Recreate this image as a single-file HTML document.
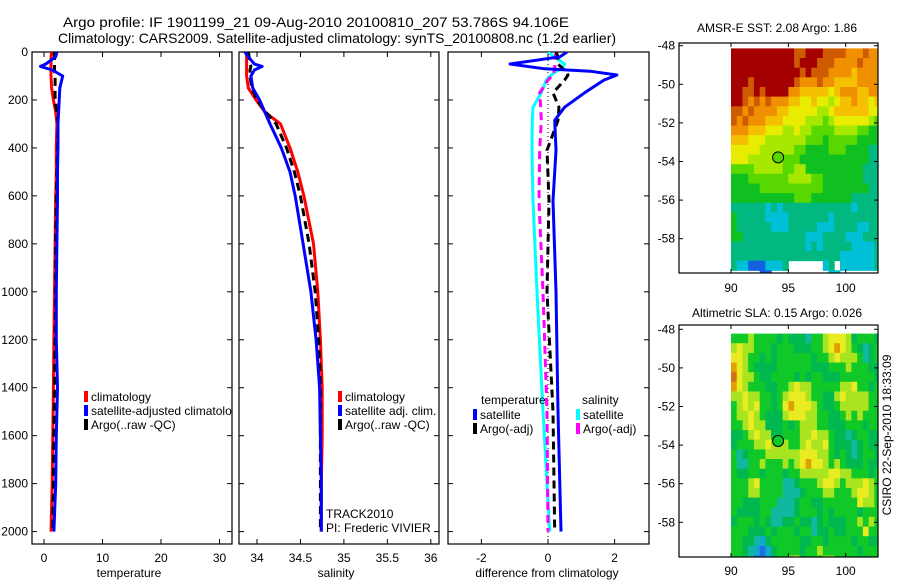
<!DOCTYPE html>
<html><head><meta charset="utf-8"><style>
html,body{margin:0;padding:0;background:#fff;}
svg{display:block;font-family:"Liberation Sans",sans-serif;}
text{font-size:12px;fill:#000;}
</style></head><body>
<svg id="fig" width="900" height="580" viewBox="0 0 900 580" xmlns="http://www.w3.org/2000/svg">
<rect x="0" y="0" width="900" height="580" fill="#fff"/>
<text x="63" y="27" style="font-size:14px" textLength="506" lengthAdjust="spacingAndGlyphs">Argo profile: IF 1901199_21 09-Aug-2010 20100810_207 53.786S 94.106E</text>
<text x="58" y="43" style="font-size:14px" textLength="558" lengthAdjust="spacingAndGlyphs">Climatology: CARS2009. Satellite-adjusted climatology: synTS_20100808.nc (1.2d earlier)</text>
<defs>
<clipPath id="c1"><rect x="32" y="52" width="200" height="492"/></clipPath>
<clipPath id="c2"><rect x="239" y="52" width="200" height="492"/></clipPath>
<clipPath id="c3"><rect x="448" y="52" width="201" height="492"/></clipPath>
<clipPath id="cm1"><rect x="679" y="43" width="199" height="230"/></clipPath>
<clipPath id="cm2"><rect x="679" y="325" width="199" height="232"/></clipPath>
</defs>
<g id="layer"></g>
<text transform="translate(891,435) rotate(-90)" text-anchor="middle">CSIRO 22-Sep-2010 18:33:09</text>
</svg>
<script>
// ---- profile data ----
const depths = [0,20,50,60,75,100,150,200,250,300,400,500,600,800,1000,1200,1400,1600,1800,2000];
const tempClim = [1.3,1.2,1.2,1.2,1.2,1.2,1.3,1.6,2.0,2.2,2.1,2.1,2.0,1.9,1.8,1.7,1.6,1.5,1.4,1.2];
const tempSat = [2.2,2.0,0.3,-0.6,1.4,3.2,2.7,2.6,2.5,2.4,2.4,2.3,2.3,2.2,2.1,2.1,2.3,2.1,2.0,1.7];
const tempArgo = [1.7,1.8,1.8,1.8,1.8,1.9,1.9,1.9,2.2,2.4,2.3,2.2,2.1,2.0,2.0,1.9,1.8,1.7,1.6,1.5];
const salClim = [33.88,33.88,33.88,33.88,33.88,33.88,33.9,33.99,34.09,34.27,34.38,34.47,34.54,34.65,34.70,34.73,34.75,34.75,34.74,34.74];
const salSat = [33.86,33.90,33.97,34.06,33.97,33.93,33.95,34.03,34.09,34.15,34.28,34.38,34.44,34.53,34.62,34.68,34.72,34.73,34.74,34.74];
const salArgo = [33.90,33.91,33.92,33.93,33.92,33.92,33.94,34.0,34.1,34.22,34.34,34.43,34.5,34.6,34.67,34.71,34.73,34.73,34.73,34.73];
const diffDepths = [0,20,50,70,80,96,117,170,230,285,410,620,1000,1500,2000];
const dTempSat = [0.57,0.36,-1.14,-0.1,1.26,2.07,1.68,1.1,0.5,0.2,0.24,0.15,0.24,0.3,0.39];
const dTempArgo = [0.24,0.3,0.3,0.45,0.55,0.6,0.5,0.15,0.33,0.3,-0.03,0.03,-0.03,0.15,0.2];
const dSalSat = [0.0,0.18,0.5,0.4,0.25,0.1,-0.05,-0.2,-0.45,-0.47,-0.48,-0.45,-0.33,-0.15,0.05];
const dSalArgo = [0.24,0.22,0.21,0.2,0.18,0.15,0.0,-0.25,-0.22,-0.2,-0.25,-0.27,-0.15,-0.03,0.0];
const depthTicks = [0,200,400,600,800,1000,1200,1400,1600,1800,2000];
const tempTicks = [0,10,20,30];
const salTicks = [34,34.5,35,35.5,36];
const diffTicks = [-2,0,2];
// ---- map data ----
const lonTicks = [90,95,100];
const latTicks = [-48,-50,-52,-54,-56,-58];
const argoLon = 94.106, argoLat = -53.786;
const sstRows = [
"aaaaaaaaaaa99aaa9999888988","aaaaaaaaaaa9aaa99988889888","aaaaaaaaaaaa9a999888878888","aaa9aaaaaaa988898877778888",
"aa99a9aaaa8877777678887788","aa989898887766766567787767","99898888776666655677777766","98988877766665554566666654",
"88877766655655444455554433","77766655555554443444443333","66666555555443333444333322","66655555544433333333333322",
"44445555544553333333333222","33344444445555443333333222","33333444444444443333333322","33333333333444333333322222",
"22222212122222222222212222","32222211112222222122222222","32222221112222211122221122","33222222222221112222111222",
"22222222222221212222211112","22222222222222222221111112","2110001112......12.1111112",".....00..........11......."];
const slaRows = [
"ggglggggdgdddtgglyyyldgggd","lyllgggdgggdddgglyoylgdtdg","yylggdgdggggggdgglylllgtdg","oylgddddggggggdddggglgggdd",
"ryllgddggggdgdggdddggggggd","oylgggddgglyllgggggllyggdg","llyllggdglyyylggddlyllllgg","glylyggdgyoyyylgddglllllgg",
"gllylgdddlyyyllggddglglggg","gglylldddgdglllggdddgggdgg","ddglyllddgggllyllgddtdggdd","dgggllylllgglyllygdddtdgdd",
"gtdgggllllllyyyllgdgdtdggd","gttgglggglglyoyylglgdddgdd","gddggdgggdgglllllyyllgggdg","ggglyggggttdggglyylglllylg",
"gggllggggtttdgggllggglyylg","ggdddgggtttdggddggggggyllg","gddddggttttdgggdgdggggdggg","dgggdgdttddgddtdgdddgglglg",
"gggdddgdgggdggtddgddgggygg","ggddtcdgggggddggdggggdggdd","ggdtcbcdggggdgglggggggdggg","ggdtbbcdgglyggggllgggggdgg"];
const sstColors = {"a":"#a40000","9":"#d05a00","8":"#f09000","7":"#f4c000","6":"#e8ec00","5":"#a8e800","4":"#58d800","3":"#10c020","2":"#00b880","1":"#00c0d8","0":"#1060e0"};
const slaColors = {"g":"#10c828","d":"#00b850","t":"#10b8a0","c":"#10a8d0","b":"#2070e0","y":"#e8ec20","l":"#a8e420","o":"#e0a000","r":"#d07010"};

const NS="http://www.w3.org/2000/svg";
const layer=document.getElementById('layer');
function mk(tag,attrs,parent){const e=document.createElementNS(NS,tag);for(const k in attrs)e.setAttribute(k,attrs[k]);(parent||layer).appendChild(e);return e;}
function txt(x,y,s,anchor,parent){const t=mk('text',{x:x,y:y,'text-anchor':anchor||'start'},parent);t.textContent=s;return t;}

const top0=52,bot0=544;
const yD=d=>52+0.2398*d;
const xT=v=>44+5.85*v;
const xS=v=>257+86.9*(v-34);
const xDf=v=>548+33.3*v;

function panel(name,L,R,xf,ticks,labels,showY,xlabel,xlabelX){
  const g=mk('g',{});
  
  
  const r=mk('rect',{x:L,y:top0,width:R-L,height:bot0-top0,fill:'none',stroke:'#000','stroke-width':1.2},g);
  
  
  depthTicks.forEach(d=>{
    const y=yD(d);
    mk('line',{x1:L,x2:L+5,y1:y,y2:y,stroke:'#000'},g);
    mk('line',{x1:R-5,x2:R,y1:y,y2:y,stroke:'#000'},g);
    if(showY){const t=txt(28,y+4,String(d),'end',g);
      
      }
  });
  ticks.forEach((v,i)=>{
    const x=xf(v);
    mk('line',{x1:x,x2:x,y1:bot0,y2:bot0-5,stroke:'#000'},g);
    mk('line',{x1:x,x2:x,y1:top0,y2:top0+5,stroke:'#000'},g);
    const t=txt(x,562,labels[i],'middle',g);
    
    
  });
  const xl=txt(xlabelX,577,xlabel,'middle',g);
  
  
  return g;
}
function line(arrD,arrV,xf,color,w,dash,clip,name){
  let p=arrD.map((d,i)=>(i?'L':'M')+xf(arrV[i]).toFixed(1)+','+yD(d).toFixed(1)).join('');
  const e=mk('path',{d:p,fill:'none',stroke:color,'stroke-width':w,'clip-path':'url(#'+clip+')','stroke-linejoin':'round'});
  if(dash)e.setAttribute('stroke-dasharray',dash);
  
  
}
function legend(x,y,color,label,name,parent){
  const b=mk('rect',{x:x,y:y-9,width:4,height:11,fill:color},parent);
  
  
  const t=txt(x+7,y+1,label,'start',parent);
  
  
  return t;
}

// Panel 1 temperature
panel('temperature-panel',32,232,xT,tempTicks,['0','10','20','30'],true,'temperature',129);
line(depths,tempClim,xT,'#f00',3,null,'c1','temp-climatology-line');
line(depths,tempArgo,xT,'#000',3,'8,5','c1','temp-argo-line');
line(depths,tempSat,xT,'#00f',3,null,'c1','temp-satellite-line');
const g1=mk('g',{'clip-path':'url(#c1)'});


legend(84,400,'#f00','climatology','temp-legend-climatology',g1);
legend(84,414,'#00f','satellite-adjusted climatology','temp-legend-satellite',g1);
legend(84,428,'#000','Argo(..raw -QC)','temp-legend-argo',g1);

// Panel 2 salinity
panel('salinity-panel',239,439,xS,salTicks,['34','34.5','35','35.5','36'],false,'salinity',336);
line(depths,salClim,xS,'#f00',3,null,'c2','sal-climatology-line');
line(depths,salArgo,xS,'#000',3,'8,5','c2','sal-argo-line');
line(depths,salSat,xS,'#00f',3,null,'c2','sal-satellite-line');
legend(338,400,'#f00','climatology','sal-legend-climatology');
legend(338,414,'#00f','satellite adj. clim.','sal-legend-satellite');
legend(338,428,'#000','Argo(..raw -QC)','sal-legend-argo');
let t=txt(326,518,'TRACK2010');
t=txt(326,532,'PI: Frederic VIVIER');

// Panel 3 difference
panel('difference-panel',448,649,xDf,diffTicks,['-2','0','2'],false,'difference from climatology',547);
const zl=mk('line',{x1:xDf(0),x2:xDf(0),y1:top0,y2:bot0,stroke:'#000','stroke-width':1,'stroke-dasharray':'1,3'});


line(diffDepths,dSalSat,xDf,'#0ff',3,null,'c3','diff-sal-satellite-line');
line(diffDepths,dSalArgo,xDf,'#f0f',3,'8,5','c3','diff-sal-argo-line');
line(diffDepths,dTempArgo,xDf,'#000',3,'8,5','c3','diff-temp-argo-line');
line(diffDepths,dTempSat,xDf,'#00f',3,null,'c3','diff-temp-satellite-line');
t=txt(481,404,'temperature');
t=txt(582,404,'salinity');
legend(473,418,'#00f','satellite','diff-legend-temp-satellite');
legend(473,432,'#000','Argo(-adj)','diff-legend-temp-argo');
legend(576,418,'#0ff','satellite','diff-legend-sal-satellite');
legend(576,432,'#f0f','Argo(-adj)','diff-legend-sal-argo');

// Maps
function map(name,top,bottom,lat48y,lat58y,rows,colors,clip,title,titleY,labY,circleFill){
  const L=679,R=878;
  const xL=lon=>731+11.47*(lon-90);
  const py=(lat58y-lat48y)/10;
  const yL=lat=>lat48y+(-48-lat)*py;
  const g=mk('g',{'clip-path':'url(#'+clip+')'});
  
  
  const rowTop=-48+(top-lat48y)/py;
  rows.forEach((row,i)=>{
    for(let j=0;j<row.length;j++){
      const c=row[j]; if(c==='.')continue;
      const lon0=90+0.5*j, latT=rowTop-0.5*i;
      const x0=xL(lon0), y0=yL(latT);
      const cell=mk('rect',{x:x0.toFixed(1),y:y0.toFixed(1),width:(11.47*0.5+0.5).toFixed(2),height:(py*0.5+0.5).toFixed(2),fill:colors[c]},g);
      
      
    }
  });
  const fr=mk('rect',{x:L,y:top,width:R-L,height:bottom-top,fill:'none',stroke:'#000','stroke-width':1.2});
  
  
  lonTicks.forEach(v=>{const x=xL(v);
    mk('line',{x1:x,x2:x,y1:top,y2:top+4,stroke:'#000'});
    mk('line',{x1:x,x2:x,y1:bottom,y2:bottom-4,stroke:'#000'});
    const tl=txt(x,labY,String(v),'middle');
    
    });
  latTicks.forEach(v=>{const y=yL(v);
    mk('line',{x1:L,x2:L+4,y1:y,y2:y,stroke:'#000'});
    mk('line',{x1:R-4,x2:R,y1:y,y2:y,stroke:'#000'});
    const tl=txt(675,y+4,String(v),'end');
    
    });
  const c=mk('circle',{cx:xL(argoLon),cy:yL(argoLat),r:5.5,fill:circleFill,stroke:'#000','stroke-width':1});
  
  
  const tt=txt(777,titleY,title,'middle');
  
  
}
map('sst-map',43,273,45.7,238.7,sstRows,sstColors,'cm1','AMSR-E SST: 2.08 Argo: 1.86',32,292,'#58d800');
map('sla-map',325,557,329.3,522.3,slaRows,slaColors,'cm2','Altimetric SLA: 0.15 Argo: 0.026',317,575,'#10c828');
</script>
</body></html>
